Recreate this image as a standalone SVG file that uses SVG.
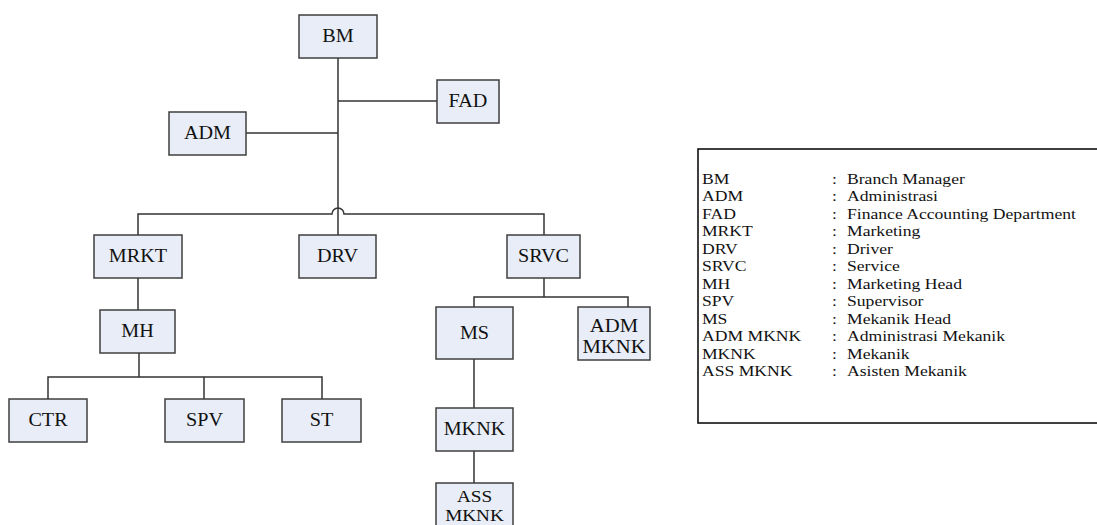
<svg xmlns="http://www.w3.org/2000/svg" width="1097" height="525" viewBox="0 0 1097 525">
<style>
.box{fill:#E8EDF7;stroke:#3F3F3F;stroke-width:1.5}
.lbl{font-size:18px;fill:#111;text-anchor:middle}
.con{fill:none;stroke:#333;stroke-width:1.5}
.leg{font-size:14px;fill:#111}
</style>
<rect width="1097" height="525" fill="#fff"/>
<g id="connectors">
<path class="con" d="M338,58 V235"/>
<path class="con" d="M338,101 H437"/>
<path class="con" d="M246,133 H338"/>
<path class="con" d="M138,235 V214 H332 A6,6 0 0 1 344,214 H544 V235"/>
<path class="con" d="M138,278 V310"/>
<path class="con" d="M139,353 V377"/>
<path class="con" d="M48,399 V377 H322 V399"/>
<path class="con" d="M204,377 V399"/>
<path class="con" d="M544,278 V297"/>
<path class="con" d="M474,307 V297 H628 V307"/>
<path class="con" d="M474,359 V408"/>
<path class="con" d="M474,451 V483"/>
</g>
<g style="font-family:'Liberation Serif','Times New Roman',serif">
<g id="BM"><rect class="box" x="299" y="15" width="78" height="43"/><text class="lbl" transform="translate(338,42) scale(1.12,1)">BM</text></g>
<g id="FAD"><rect class="box" x="437" y="80" width="62" height="43"/><text class="lbl" transform="translate(468,107) scale(1.12,1)">FAD</text></g>
<g id="ADM"><rect class="box" x="169" y="112" width="77" height="43"/><text class="lbl" transform="translate(207.5,139) scale(1.12,1)">ADM</text></g>
<g id="MRKT"><rect class="box" x="94" y="235" width="88" height="43"/><text class="lbl" transform="translate(138,262) scale(1.12,1)">MRKT</text></g>
<g id="DRV"><rect class="box" x="299" y="235" width="77" height="43"/><text class="lbl" transform="translate(337.5,262) scale(1.12,1)">DRV</text></g>
<g id="SRVC"><rect class="box" x="507" y="235" width="73" height="43"/><text class="lbl" transform="translate(543.5,262) scale(1.12,1)">SRVC</text></g>
<g id="MH"><rect class="box" x="100" y="310" width="75" height="43"/><text class="lbl" transform="translate(137.5,337) scale(1.12,1)">MH</text></g>
<g id="CTR"><rect class="box" x="9" y="399" width="78" height="43"/><text class="lbl" transform="translate(48,426) scale(1.12,1)">CTR</text></g>
<g id="SPV"><rect class="box" x="165" y="399" width="79" height="43"/><text class="lbl" transform="translate(204.5,426) scale(1.12,1)">SPV</text></g>
<g id="ST"><rect class="box" x="282" y="399" width="79" height="43"/><text class="lbl" transform="translate(321.5,426) scale(1.12,1)">ST</text></g>
<g id="MS"><rect class="box" x="436" y="307" width="77" height="52"/><text class="lbl" transform="translate(474.5,339) scale(1.12,1)">MS</text></g>
<g id="ADM_MKNK"><rect class="box" x="578" y="307" width="72" height="53"/><text class="lbl" font-size="17" transform="translate(614,332) scale(1.15,1)">ADM</text><text class="lbl" font-size="17" transform="translate(614,353) scale(1.15,1)">MKNK</text></g>
<g id="MKNK"><rect class="box" x="436" y="408" width="77" height="43"/><text class="lbl" transform="translate(474.5,435) scale(1.12,1)">MKNK</text></g>
<g id="ASS_MKNK"><rect class="box" x="436" y="483" width="77" height="50"/><text class="lbl" style="font-size:16px" transform="translate(474.5,502) scale(1.2,1)">ASS</text><text class="lbl" style="font-size:16px" transform="translate(474.5,521) scale(1.2,1)">MKNK</text></g>
</g>
<g id="legend">
<rect x="698" y="149" width="420" height="274" fill="#fff" stroke="#000" stroke-width="1.5"/>
<g class="leg" style="font-family:'Liberation Serif','Times New Roman',serif" transform="scale(1.26,1)">
<text x="557.1" y="184">BM</text><text x="660.3" y="184">:</text><text x="672.2" y="184">Branch Manager</text>
<text x="557.1" y="201.5">ADM</text><text x="660.3" y="201.5">:</text><text x="672.2" y="201.5">Administrasi</text>
<text x="557.1" y="219">FAD</text><text x="660.3" y="219">:</text><text x="672.2" y="219">Finance Accounting Department</text>
<text x="557.1" y="236.5">MRKT</text><text x="660.3" y="236.5">:</text><text x="672.2" y="236.5">Marketing</text>
<text x="557.1" y="254">DRV</text><text x="660.3" y="254">:</text><text x="672.2" y="254">Driver</text>
<text x="557.1" y="271.5">SRVC</text><text x="660.3" y="271.5">:</text><text x="672.2" y="271.5">Service</text>
<text x="557.1" y="289">MH</text><text x="660.3" y="289">:</text><text x="672.2" y="289">Marketing Head</text>
<text x="557.1" y="306.5">SPV</text><text x="660.3" y="306.5">:</text><text x="672.2" y="306.5">Supervisor</text>
<text x="557.1" y="324">MS</text><text x="660.3" y="324">:</text><text x="672.2" y="324">Mekanik Head</text>
<text x="557.1" y="341.5">ADM MKNK</text><text x="660.3" y="341.5">:</text><text x="672.2" y="341.5">Administrasi Mekanik</text>
<text x="557.1" y="359">MKNK</text><text x="660.3" y="359">:</text><text x="672.2" y="359">Mekanik</text>
<text x="557.1" y="376.5">ASS MKNK</text><text x="660.3" y="376.5">:</text><text x="672.2" y="376.5">Asisten Mekanik</text>
</g>
</g>
</svg>
